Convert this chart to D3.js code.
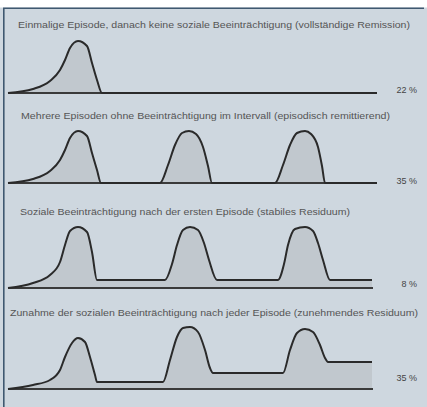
<!DOCTYPE html>
<html><head><meta charset="utf-8">
<script src="https://cdn.jsdelivr.net/npm/d3@7"></script>
<style>html,body{margin:0;padding:0;background:#fff;}svg{display:block;}</style>
</head><body>
<script>
// ---- data ----
const titles = [
  "Einmalige Episode, danach keine soziale Beeinträchtigung (vollständige Remission)",
  "Mehrere Episoden ohne Beeinträchtigung im Intervall (episodisch remittierend)",
  "Soziale Beeinträchtigung nach der ersten Episode (stabiles Residuum)",
  "Zunahme der sozialen Beeinträchtigung nach jeder Episode (zunehmendes Residuum)"
];
const percents = ["22 %", "35 %", "8 %", "35 %"];
// [time, impairment level]
const course1 = [[0,0],[25,4],[42,12],[52,23],[57,33],[62,45],[70,52],[79,47],[84,30],[89,13],[94,0],[369,0]];
const course2 = [[0,0],[25,4],[42,12],[52,23],[57,33],[62,45],[70,52],[79,47],[84,30],[89,13],[93,0],
  [152,0],[160,18],[167,38],[174,50],[181,52],[188,49],[195,36],[200,17],[204,0],
  [267,0],[275,18],[282,38],[289,50],[297,52],[303,49],[310,36],[314,17],[317,0],[369,0]];
const course3 = [[0,0],[25,5],[42,13],[52,26],[57,43],[62,57],[70,61],[79,56],[84,36],[89,8],
  [157,8],[164,24],[169,43],[175,58],[182,61],[190,58],[196,45],[201,28],[209,8],
  [270,8],[276,24],[280,43],[287,59],[297,61],[305,57],[310,45],[315,28],[322,8],[364,8]];
const course4 = [[0,0],[25,4],[42,9],[52,19],[57,32],[64,46],[70,51],[77,47],[82,32],[87,14],[89,7],
  [155,7],[162,29],[169,52],[175,61],[182,62],[190,57],[197,39],[202,21],[205,16],
  [275,16],[282,39],[289,56],[297,60],[305,57],[312,44],[317,31],[320,27],[364,27]];
const courses = [course1, course2, course3, course4];
const timeEnd = [369, 369, 365, 365];

// ---- layout ----
const W = 427, H = 407;
const baselines = [93, 183, 288, 389];
const titleY = [25, 116, 212, 313];
const titleX = [18, 21, 20, 10];
const titleW = [392, 369, 330, 408];
const labelY = [90, 181, 284, 378];

const svg = d3.select("body").append("svg").attr("width", W).attr("height", H);
svg.append("rect").attr("width", W).attr("height", H).attr("fill", "#ced7df");
svg.append("rect").attr("width", W).attr("height", 7.5).attr("fill", "#ffffff");
svg.append("line").attr("x1", 3).attr("x2", 424).attr("y1", 8.2).attr("y2", 8.2)
  .attr("stroke", "#3f5870").attr("stroke-width", 1.6);
svg.append("line").attr("x1", 3.8).attr("x2", 3.8).attr("y1", 8).attr("y2", H)
  .attr("stroke", "#3f5870").attr("stroke-width", 1.6);

const x = d3.scaleLinear().domain([0, 369]).range([8, 377]);

courses.forEach((data, i) => {
  const y = d3.scaleLinear().domain([0, 60]).range([baselines[i], baselines[i] - 60]);
  const g = svg.append("g");
  const area = d3.area().x(d => x(d[0])).y0(y(0)).y1(d => y(d[1])).curve(d3.curveMonotoneX);
  const line = d3.line().x(d => x(d[0])).y(d => y(d[1])).curve(d3.curveMonotoneX);
  g.append("path").datum(data).attr("d", area).attr("fill", "#c1c8ce");
  g.append("line").attr("x1", x(0)).attr("x2", x(timeEnd[i])).attr("y1", y(0)).attr("y2", y(0))
    .attr("stroke", "#3a3a3a").attr("stroke-width", 2.2);
  g.append("path").datum(data).attr("d", line).attr("fill", "none")
    .attr("stroke", "#2a2a2a").attr("stroke-width", 2).attr("stroke-linejoin", "round");
  g.append("text").attr("x", titleX[i]).attr("y", titleY[i]).attr("dy", "0.35em")
    .attr("textLength", titleW[i]).attr("lengthAdjust", "spacingAndGlyphs")
    .style("font-family", "'Liberation Sans Narrow','Liberation Sans',Arial,sans-serif")
    .style("font-size", "9.5px").attr("fill", "#555")
    .text(titles[i]);
  g.append("text").attr("x", 417).attr("y", labelY[i]).attr("dy", "0.35em")
    .attr("text-anchor", "end")
    .style("font-family", "'Liberation Sans Narrow','Liberation Sans',Arial,sans-serif")
    .style("font-size", "9px").attr("fill", "#444")
    .text(percents[i]);
});
</script>
</body></html>
